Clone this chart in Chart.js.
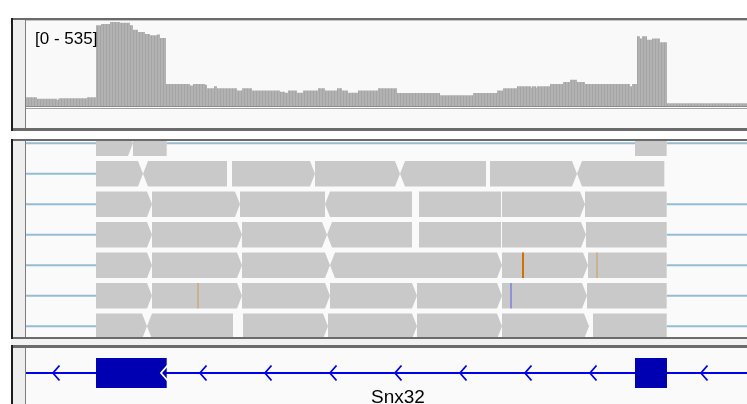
<!DOCTYPE html>
<html><head><meta charset="utf-8">
<script src="https://cdn.jsdelivr.net/npm/chart.js@4.4.1/dist/chart.umd.min.js"></script>
<style>
html,body{margin:0;padding:0;background:#fff;width:747px;height:404px;overflow:hidden;font-family:"Liberation Sans",Arial,sans-serif}
.b{position:absolute}
canvas{position:absolute;display:block}
</style></head><body>
<!-- panel 1 frame -->
<div class="b" style="left:26px;top:21px;width:721px;height:107px;background:#f9f9f9"></div>
<div class="b" style="left:11px;top:18px;width:736px;height:2px;background:#6b6b6b"></div>
<div class="b" style="left:11px;top:20px;width:736px;height:1px;background:#c4c4c4"></div>
<div class="b" style="left:12px;top:20px;width:13px;height:108px;background:#eeeeee"></div>
<div class="b" style="left:25px;top:20px;width:1px;height:108px;background:#7d7d7d"></div>
<div class="b" style="left:26px;top:106px;width:721px;height:1px;background:#8c8c8c"></div>
<div class="b" style="left:26px;top:108px;width:721px;height:1px;background:#a2a2a2"></div>
<div class="b" style="left:11px;top:128px;width:736px;height:3px;background:#6b6b6b"></div>
<div class="b" style="left:11px;top:18px;width:2px;height:113px;background:#1e1e1e"></div>
<!-- panel 2 frame -->
<div class="b" style="left:26px;top:141px;width:721px;height:196px;background:#fafafa"></div>
<div class="b" style="left:11px;top:139px;width:736px;height:2px;background:#6b6b6b"></div>
<div class="b" style="left:12px;top:141px;width:13px;height:196px;background:#eeeeee"></div>
<div class="b" style="left:25px;top:141px;width:1px;height:196px;background:#7d7d7d"></div>
<div class="b" style="left:11px;top:337px;width:736px;height:2px;background:#6b6b6b"></div>
<div class="b" style="left:11px;top:139px;width:2px;height:200px;background:#1e1e1e"></div>
<!-- panel 3 frame -->
<div class="b" style="left:11px;top:339px;width:736px;height:6px;background:#f2f2f2"></div>
<div class="b" style="left:26px;top:348px;width:721px;height:56px;background:#fafafa"></div>
<div class="b" style="left:11px;top:345px;width:736px;height:3px;background:#6b6b6b"></div>
<div class="b" style="left:12px;top:348px;width:13px;height:56px;background:#eeeeee"></div>
<div class="b" style="left:25px;top:348px;width:1px;height:56px;background:#7d7d7d"></div>
<div class="b" style="left:11px;top:345px;width:2px;height:59px;background:#1e1e1e"></div>

<canvas id="cov" width="721" height="84" style="left:26px;top:22px"></canvas>
<canvas id="reads" width="721" height="196" style="left:26px;top:141px"></canvas>
<canvas id="gene" width="721" height="56" style="left:26px;top:348px"></canvas>

<script>
// ---------- DATA ----------
// genomic window positions (0 .. 721) of the visible region
const viewStart = 0;
const viewEnd = 721;

// coverage: step profile (position where a level starts, depth)
const covPos = [0, 11, 31, 32.5, 61, 70, 75, 84, 94, 104, 107, 112, 119, 124, 131, 134, 140, 164, 167, 179, 181, 188, 191, 211, 216, 226, 254, 259, 262, 271, 277, 292, 299, 311, 316, 322, 332, 352, 371, 414, 447, 471, 477, 491, 505, 506, 510, 511, 524, 537, 544, 551, 559, 604, 606, 611, 614, 616, 621, 626, 634, 641, 721];
const covVal = [55, 46, 40, 49, 55, 514, 522, 535, 530, 515, 486, 471, 458, 450, 455, 433, 140, 130, 140, 136, 113, 125, 113, 98, 113, 98, 90, 85, 98, 85, 98, 113, 98, 113, 98, 85, 98, 113, 83, 68, 83, 98, 113, 125, 118, 125, 118, 125, 140, 153, 167, 153, 140, 125, 140, 444, 430, 444, 422, 430, 406, 17, 17];
const covRangeMin = 0;
const covRangeMax = 535;

// alignments, one array per row: [start, end, strand]  ('+' forward, '-' reverse, '.' flat)
const row0 = [[70, 107, '+'], [107, 140.7, '.'], [609, 640.7, '.']];
const row1 = [[70, 117, '+'], [117, 201, '-'], [206, 289, '+'], [289, 374, '+'], [374, 460, '-'], [464, 551, '+'], [551, 638.3, '-']];
const row2 = [[70, 126, '+'], [126, 214, '+'], [214, 299, '.'], [299, 386, '-'], [393, 475, '.'], [476, 559, '+'], [559, 640.7, '.']];
const row3 = [[70, 126, '+'], [126, 216, '+'], [216, 301, '+'], [301, 386, '-'], [393, 475, '.'], [476, 560, '+'], [560, 640.7, '.']];
const row4 = [[70, 126, '+'], [126, 216, '+'], [216, 304, '+'], [304, 391, '-'], [391, 476, '+'], [476, 562, '+'], [562, 640.7, '.']];
const row5 = [[70, 126, '+'], [126, 216, '+'], [216, 304, '+'], [304, 391, '+'], [391, 476, '+'], [476, 561, '+'], [561, 640.7, '.']];
const row6 = [[70, 121, '+'], [121, 207, '-'], [217, 302, '+'], [302, 391, '+'], [391, 476, '+'], [476, 563, '+'], [567, 640.7, '.']];
const alignmentRows = [row0, row1, row2, row3, row4, row5, row6];

// split-read / gap connector lines: [row, start, end]
const gapLines = [[0, 0, 70], [0, 140.7, 609], [0, 640.7, 721],
  [1, 0, 70], [2, 0, 70], [3, 0, 70], [4, 0, 70], [5, 0, 70], [6, 0, 70],
  [2, 640.7, 721], [3, 640.7, 721], [4, 640.7, 721], [5, 640.7, 721], [6, 640.7, 721]];

// mismatches: [row, position, base, highQuality]
const mismatches = [[4, 497, 'G', true], [4, 571, 'G', false], [5, 172, 'G', false], [5, 485, 'C', false]];

// gene model (Snx32, minus strand)
const geneName = 'Snx32';
const geneStart = 0, geneEnd = 721;
const exonStarts = [70, 609];
const exonEnds = [140.7, 641];
const strandMarks = [27, 135, 174, 239, 304, 369, 434, 499, 564, 675];
const geneLabelPos = 372;

// ---------- STYLE ----------
const ROW_H = 25.5 / 30.5;
const TIP = 5;
const baseColor = { A: [0, 150, 0], C: [0, 0, 255], G: [209, 113, 5], T: [255, 0, 0] };

const common = {
  responsive: false, animation: false, devicePixelRatio: 1, events: [],
  layout: { padding: 0 },
  plugins: { legend: { display: false }, tooltip: { enabled: false } }
};

// ---------- COVERAGE ----------
const covCanvas = document.getElementById('cov');
const pc = document.createElement('canvas'); pc.width = 3; pc.height = 4;
const pg = pc.getContext('2d');
pg.fillStyle = '#b2b2b2'; pg.fillRect(0, 0, 3, 4);
pg.fillStyle = '#a5a5a5'; pg.fillRect(2, 0, 1, 4);
const covPattern = covCanvas.getContext('2d').createPattern(pc, 'repeat');

new Chart(covCanvas, {
  type: 'line',
  data: { datasets: [{
    data: covPos.map((p, i) => ({ x: p, y: covVal[i] })),
    stepped: true, fill: 'origin', backgroundColor: covPattern,
    borderColor: 'rgba(0,0,0,0)', borderWidth: 0, pointRadius: 0
  }] },
  options: Object.assign({}, common, {
    scales: {
      x: { type: 'linear', min: viewStart, max: viewEnd, display: false },
      y: { type: 'linear', min: covRangeMin, max: covRangeMax, display: false }
    }
  }),
  plugins: [{
    id: 'rangeLabel',
    afterDraw(chart) {
      const { ctx, chartArea } = chart;
      ctx.save();
      ctx.fillStyle = '#000';
      ctx.font = '17px "Liberation Sans", Arial, sans-serif';
      ctx.textBaseline = 'alphabetic';
      ctx.fillText('[' + covRangeMin + ' - ' + covRangeMax + ']', chartArea.left + 9, chartArea.top + 22);
      ctx.restore();
    }
  }]
});

// ---------- ALIGNMENTS ----------
const yMinRows = (141 - 130.5) / 30.5;
new Chart(document.getElementById('reads'), {
  type: 'scatter',
  data: { datasets: [] },
  options: Object.assign({}, common, {
    scales: {
      x: { type: 'linear', min: viewStart, max: viewEnd, display: false },
      y: { type: 'linear', min: yMinRows, max: yMinRows + 196 / 30.5, reverse: true, display: false }
    }
  }),
  plugins: [{
    id: 'alignments',
    afterDatasetsDraw(chart) {
      const { ctx, scales: { x, y } } = chart;
      ctx.save();
      ctx.strokeStyle = '#94bcd3';
      ctx.lineWidth = 2;
      gapLines.forEach(([r, s, e]) => {
        const yy = y.getPixelForValue(r + ROW_H / 2);
        ctx.beginPath();
        ctx.moveTo(x.getPixelForValue(s), yy);
        ctx.lineTo(x.getPixelForValue(e), yy);
        ctx.stroke();
      });
      ctx.fillStyle = '#c9c9c9';
      alignmentRows.forEach((row, r) => {
        const top = y.getPixelForValue(r), bot = y.getPixelForValue(r + ROW_H), mid = (top + bot) / 2;
        row.forEach(([s, e, st]) => {
          const x1 = x.getPixelForValue(s), x2 = x.getPixelForValue(e);
          ctx.beginPath();
          if (st === '+') {
            ctx.moveTo(x1, top); ctx.lineTo(x2 - TIP, top); ctx.lineTo(x2, mid);
            ctx.lineTo(x2 - TIP, bot); ctx.lineTo(x1, bot);
          } else if (st === '-') {
            ctx.moveTo(x1 + TIP, top); ctx.lineTo(x2, top); ctx.lineTo(x2, bot);
            ctx.lineTo(x1 + TIP, bot); ctx.lineTo(x1, mid);
          } else {
            ctx.rect(x1, top, x2 - x1, bot - top);
          }
          ctx.closePath();
          ctx.fill();
        });
      });
      mismatches.forEach(([r, p, b, hq]) => {
        const c = baseColor[b];
        ctx.fillStyle = 'rgba(' + c.join(',') + ',' + (hq ? 1 : 0.28) + ')';
        const top = y.getPixelForValue(r), bot = y.getPixelForValue(r + ROW_H);
        const xp = x.getPixelForValue(p);
        ctx.fillRect(xp - 1, top, 2, bot - top);
      });
      ctx.restore();
    }
  }]
});

// ---------- GENE ----------
new Chart(document.getElementById('gene'), {
  type: 'scatter',
  data: { datasets: [] },
  options: Object.assign({}, common, {
    layout: { padding: { top: 0, bottom: 6, left: 0, right: 0 } },
    scales: {
      x: { type: 'linear', min: viewStart, max: viewEnd, display: false },
      y: { type: 'linear', min: -1, max: 1, display: false }
    }
  }),
  plugins: [{
    id: 'gene',
    afterDatasetsDraw(chart) {
      const { ctx, scales: { x, y } } = chart;
      const yc = y.getPixelForValue(0);
      ctx.save();
      ctx.strokeStyle = '#0000e6';
      ctx.lineWidth = 1.8;
      ctx.beginPath();
      ctx.moveTo(x.getPixelForValue(geneStart), yc);
      ctx.lineTo(x.getPixelForValue(geneEnd), yc);
      ctx.stroke();
      ctx.fillStyle = '#0000b2';
      exonStarts.forEach((s, i) => {
        const x1 = x.getPixelForValue(s), x2 = x.getPixelForValue(exonEnds[i]);
        const t = y.getPixelForValue(0.6), b = y.getPixelForValue(-0.6);
        ctx.fillRect(x1, t, x2 - x1, b - t);
      });
      const hh = y.getPixelForValue(0) - y.getPixelForValue(0.3);
      strandMarks.forEach(p => {
        const inExon = exonStarts.some((s, i) => p >= s && p <= exonEnds[i]);
        ctx.strokeStyle = inExon ? '#ffffff' : '#0000e6';
        ctx.lineWidth = 1.8;
        const xp = x.getPixelForValue(p);
        ctx.beginPath();
        ctx.moveTo(xp + 6.5, yc - hh);
        ctx.lineTo(xp, yc);
        ctx.lineTo(xp + 6.5, yc + hh);
        ctx.stroke();
      });
      ctx.fillStyle = '#000';
      ctx.font = '19px "Liberation Sans", Arial, sans-serif';
      ctx.textAlign = 'center';
      ctx.textBaseline = 'alphabetic';
      ctx.fillText(geneName, x.getPixelForValue(geneLabelPos), y.getPixelForValue(-1.2));
      ctx.restore();
    }
  }]
});
</script>
</body></html>
